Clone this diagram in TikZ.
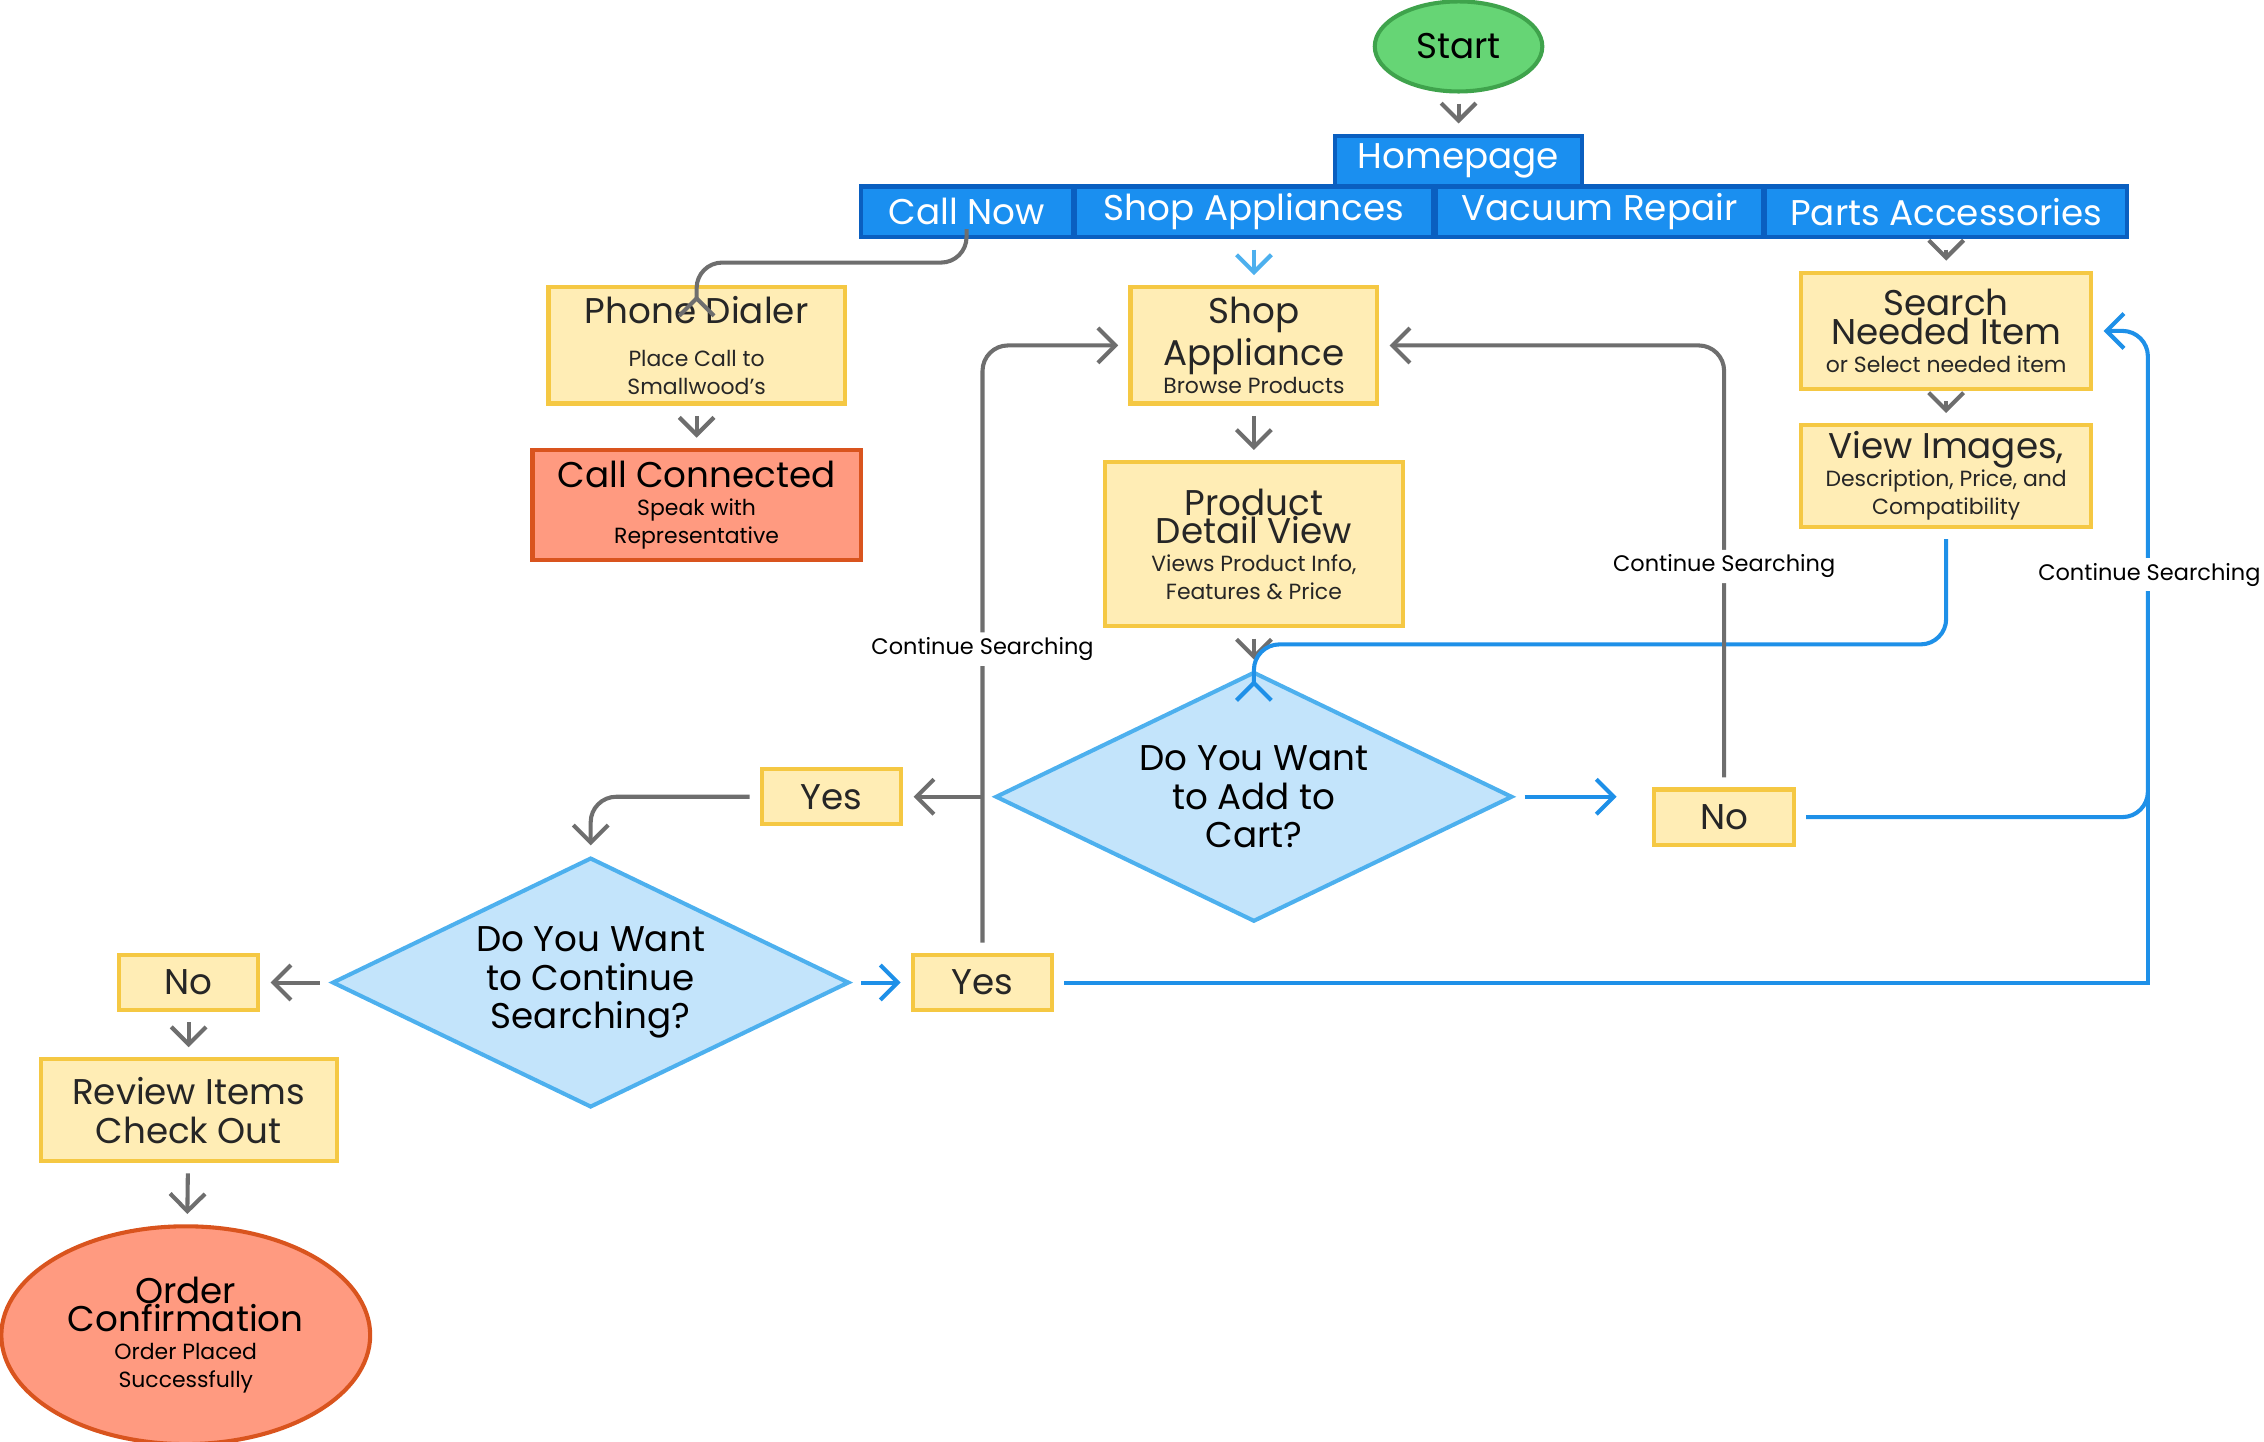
\documentclass[tikz,border=0pt]{standalone}
\usepackage{fontspec}
\setmainfont{Poppins}
\usetikzlibrary{positioning,arrows.meta,shapes.geometric,calc}
\definecolor{blue1}{HTML}{1A8FF0}
\definecolor{blueline}{HTML}{1E90E8}
\definecolor{tabline}{HTML}{0A5FC0}
\definecolor{yfill}{HTML}{FFEDB5}
\definecolor{yline}{HTML}{F5C843}
\definecolor{sfill}{HTML}{FF9A80}
\definecolor{sline}{HTML}{D9541E}
\definecolor{dfill}{HTML}{C3E4FB}
\definecolor{dline}{HTML}{4DB0EE}
\definecolor{gfill}{HTML}{66D575}
\definecolor{gline}{HTML}{3FA34C}
\definecolor{grey1}{HTML}{6E6E6E}
\newcommand{\bigtxt}{\fontsize{7}{7.6}\selectfont}
\newcommand{\smtxt}{\fontsize{4.3}{4.6}\selectfont}

\begin{document}
\begin{tikzpicture}[
    x=0.01cm, y=-0.01cm,
    big/.style={font=\bigtxt},
    tab/.style={draw=tabline, thick, fill=blue1, text=white, big,
                minimum height=0.35cm, inner sep=0pt},
    ybox/.style={draw=yline, thick, fill=yfill, align=center, inner sep=1pt,
                 text=black!85, font=\fontsize{5}{5.5}\selectfont},
    rbox/.style={draw=sline, thick, fill=sfill, align=center, inner sep=1pt,
                 font=\fontsize{5}{5.5}\selectfont},
    ask/.style={diamond, draw=dline, thick, fill=dfill, aspect=2.07,
                minimum width=3.56cm, minimum height=1.72cm, align=center, big, inner sep=0pt},
    garr/.style={draw=grey1, thick, -{Straight Barb[length=1.2mm]}, rounded corners=5pt,
                 shorten >=2pt, shorten <=2pt},
    barr/.style={draw=blueline, thick, -{Straight Barb[length=1.2mm]}, rounded corners=5pt,
                 shorten >=2pt, shorten <=2pt},
    lbl/.style={fill=white, font=\fontsize{4.4}{5}\selectfont, inner sep=1pt},
]
\useasboundingbox (0,0) rectangle (1560,993);

% top
\node[ellipse, draw=gline, thick, fill=gfill, minimum width=1.04cm, minimum height=0.62cm, big]
    (start) at (1005,32) {Start};
\node[tab, minimum width=1.70cm] (home) at (1005,111) {Homepage};
\node[tab, minimum width=1.46cm] (call) at (666,146) {Call Now};
\node[tab, minimum width=2.47cm] (shop) at (864,146) {Shop Appliances};
\node[tab, minimum width=2.25cm] (vac) at (1102,146) {Vacuum Repair};
\node[tab, minimum width=2.49cm] (parts) at (1341,146) {Parts Accessories};

% boxes
\node[ybox, minimum width=2.04cm, minimum height=0.80cm] (dial) at (480,238)
    {\bigtxt Phone Dialer\\[3pt]\smtxt Place Call to\\\smtxt Smallwood’s};
\node[rbox, minimum width=2.26cm, minimum height=0.76cm] (conn) at (480,348)
    {\bigtxt Call Connected\\\smtxt Speak with\\\smtxt Representative};
\node[ybox, minimum width=1.70cm, minimum height=0.80cm] (appl) at (864,238)
    {\bigtxt Shop\\\bigtxt Appliance\\\smtxt Browse Products};
\node[ybox, minimum width=2.05cm, minimum height=1.13cm] (detail) at (864,375)
    {\bigtxt Product\\\bigtxt Detail View\\\smtxt Views Product Info,\\\smtxt Features \& Price};
\node[ybox, minimum width=2.00cm, minimum height=0.80cm] (search) at (1341,228)
    {\bigtxt Search\\\bigtxt Needed Item\\\smtxt or Select needed item};
\node[ybox, minimum width=2.00cm, minimum height=0.70cm] (view) at (1341,328)
    {\bigtxt View Images,\\\smtxt Description, Price, and\\\smtxt Compatibility};

% decisions
\node[ask] (cart) at (864,549) {Do You Want\\to Add to\\Cart?};
\node[ask] (more) at (407,677) {Do You Want\\to Continue\\Searching?};
\node[ybox, big, minimum width=0.96cm, minimum height=0.38cm] (yes1) at (573,549) {Yes};
\node[ybox, big, minimum width=0.96cm, minimum height=0.38cm] (no1) at (1188,563) {No};
\node[ybox, big, minimum width=0.96cm, minimum height=0.38cm] (no2) at (130,677) {No};
\node[ybox, big, minimum width=0.96cm, minimum height=0.38cm] (yes2) at (677,677) {Yes};
\node[ybox, big, minimum width=2.04cm, minimum height=0.70cm] (review) at (130,765) {Review Items\\Check Out};
\node[ellipse, draw=sline, thick, fill=sfill, minimum width=2.54cm, minimum height=1.50cm,
      align=center, inner sep=0pt, font=\fontsize{5}{5.5}\selectfont]
    (order) at (128,920)
    {\bigtxt Order\\\bigtxt Confirmation\\\smtxt Order Placed\\\smtxt Successfully};
\coordinate (nohook) at (1121,549);

% connectors
\draw[garr] (start) -- (home);
\draw[garr] (call.south) -- ++(0,16) -| (dial.north);
\draw[barr, draw=dline] (shop.south) -- (appl.north);
\draw[garr] (parts) -- (search);
\draw[garr] (dial) -- (conn);
\draw[garr] (appl) -- (detail);
\draw[garr] (search) -- (view);
\draw[garr] (detail) -- (cart.north);
\draw[barr] (view.south) -- (1341,444) -- (864,444) -- (cart.north);
\draw[garr] (cart.west) -- (yes1.east);
\draw[garr] (yes1.west) -| (more.north);
\draw[barr] (cart.east) -- (nohook);
\draw[garr] (no1.north) |- (appl.east) node[pos=0.25, lbl] {Continue Searching};
\draw[barr] (no1.east) -| (1480,228) -- (search.east);
\node[lbl] (cs3) at (1481,396) {Continue Searching};
\draw[garr] (more.west) -- (no2.east);
\draw[barr] (more.east) -- (yes2.west);
\draw[garr] (yes2.north) |- (appl.west) node[pos=0.25, lbl] {Continue Searching};
\draw[blueline, thick, shorten <=2pt] (yes2.east) -| (1480,515);
\draw[garr] (no2) -- (review);
\draw[garr] (review) -- (order);
\end{tikzpicture}
\end{document}
